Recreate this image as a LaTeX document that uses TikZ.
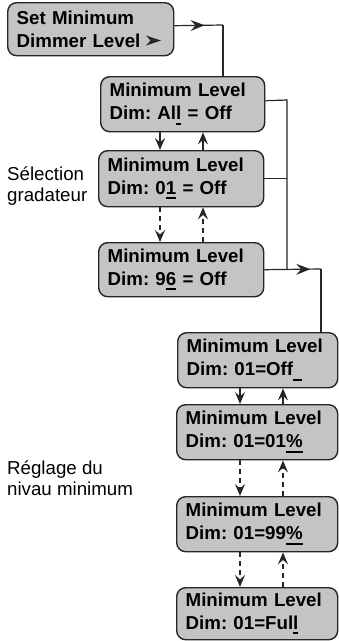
\documentclass[tikz,border=0pt]{standalone}
\usepackage{fontspec}
\setmainfont{Liberation Sans}
\usetikzlibrary{arrows.meta,decorations.markings,calc}
\frenchspacing
\newsavebox\ulbox
\newcommand{\ulmark}[1]{\sbox\ulbox{#1}\rlap{\rule[-5pt]{\wd\ulbox}{2.2pt}}\usebox\ulbox}
\newcommand{\ulbar}{\rule[-5pt]{9pt}{2.2pt}}
\begin{document}
\begin{tikzpicture}[x=1pt,y=-1pt,
  box/.style={draw=black!85, line width=1.4pt, fill=black!23, rounded corners=9pt,
    font=\bfseries\fontsize{18.7}{23}\selectfont, align=left, anchor=north west,
    inner xsep=9pt, inner ysep=0pt},
  conn/.style={line width=1.2pt, draw=black!85},
  tipd/.style={-{Stealth[length=12pt,width=10pt,inset=4.5pt]}},
  dsh/.style={dash pattern=on 5pt off 4pt},
  midarrow/.style={postaction={decorate}, decoration={markings,
    mark=at position #1 with {\arrow{Stealth[length=14pt,width=11pt,inset=5pt]}}}},
  lbl/.style={font=\fontsize{18.7}{20.5}\selectfont, align=left, anchor=north west, inner sep=0pt}
]
\useasboundingbox (0,0) rectangle (339,641);

% boxes
\node[box, minimum width=166pt, minimum height=53pt, text width=148pt] (B1) at (7,2) {Set Minimum\\Dimmer Level};
\node[box, minimum width=164pt, minimum height=55pt, text width=146pt] (B2) at (100,76) {Minimum Level\\Dim: Al\ulmark{l} = Off};
\node[box, minimum width=165pt, minimum height=56pt, text width=147pt] (B3) at (98,150) {Minimum Level\\Dim: 0\ulmark{1} = Off};
\node[box, minimum width=165pt, minimum height=54pt, text width=147pt] (B4) at (98,242) {Minimum Level\\Dim: 9\ulmark{6} = Off};
\node[box, minimum width=160pt, minimum height=55pt, text width=142pt] (B5) at (177,332) {Minimum Level\\Dim: 01=Off\ulbar};
\node[box, minimum width=161pt, minimum height=55pt, text width=143pt] (B6) at (176,404) {Minimum Level\\Dim: 01=01\ulmark{\%}};
\node[box, minimum width=161pt, minimum height=55pt, text width=143pt] (B7) at (176,496) {Minimum Level\\Dim: 01=99\ulmark{\%}};
\node[box, minimum width=161pt, minimum height=52pt, text width=143pt] (B8) at (176,587) {Minimum Level\\Dim: 01=Ful\ulmark{l}};

% arrowhead glyph in first box
\fill[black!85] (146,35.5) -- (161,40.5) -- (146,45.5) -- (150.5,40.5) -- cycle;

% labels
\node[lbl] (L1) at (7,167) {Sélection\\gradateur};
\node[lbl] (L2) at (7,461) {Réglage du\\nivau minimum};

% coordinates
\coordinate (c1) at (223,25);
\coordinate (j1) at (287,100);
\coordinate (j3) at (321,269);
\coordinate (xa) at (160,0);
\coordinate (xb) at (203,0);
\coordinate (xc) at (240,0);
\coordinate (xd) at (283,0);

% connectors
\draw[conn, midarrow=0.62] ([yshift=3.5pt]B1.east) -- (c1);
\draw[conn] (c1) -- (B2.north -| c1);
\draw[conn] ([yshift=3.5pt]B2.east) -- (j1) -- (j1 |- B4.east);
\draw[conn] (B3.east) -- (B3.east -| j1);
\draw[conn, midarrow=0.81] (B4.east) -- (j3);
\draw[conn] (j3) -- (B5.north -| j3);

% vertical navigation arrows
\draw[conn, tipd] (B2.south -| xa) -- (B3.north -| xa);
\draw[conn, tipd] (B3.north -| xb) -- (B2.south -| xb);
\draw[conn, tipd, dsh] (B3.south -| xa) -- (B4.north -| xa);
\draw[conn, tipd, dsh] (B4.north -| xb) -- (B3.south -| xb);

\draw[conn, tipd] (B5.south -| xc) -- (B6.north -| xc);
\draw[conn, tipd] (B6.north -| xd) -- (B5.south -| xd);
\draw[conn, tipd, dsh] (B6.south -| xc) -- (B7.north -| xc);
\draw[conn, tipd, dsh] (B7.north -| xd) -- (B6.south -| xd);
\draw[conn, tipd, dsh] (B7.south -| xc) -- (B8.north -| xc);
\draw[conn, tipd, dsh] (B8.north -| xd) -- (B7.south -| xd);
\end{tikzpicture}
\end{document}
